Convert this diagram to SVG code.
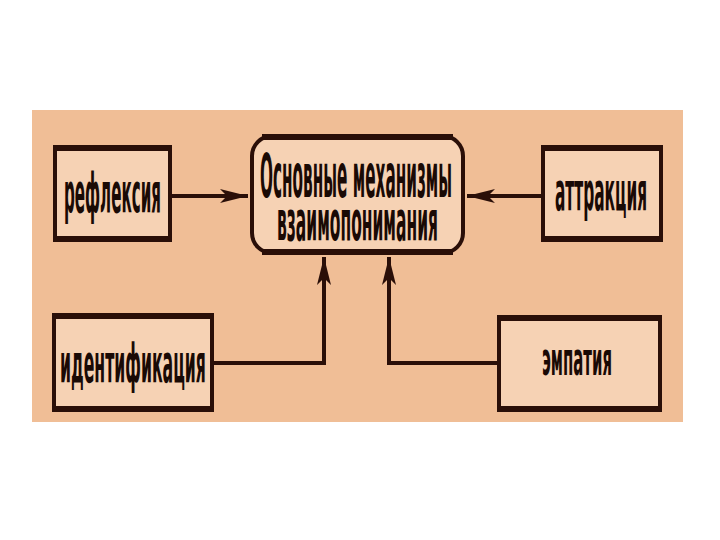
<svg xmlns="http://www.w3.org/2000/svg" width="720" height="540" viewBox="0 0 720 540">
<defs>
<style>
.bg{fill:#F0BE96}
.box{fill:#F6D2B4;stroke:#2A0F08;stroke-width:4}
.edge{fill:#2A0F08}
.t{font-family:"DejaVu Sans Condensed","DejaVu Sans","Liberation Sans",sans-serif;font-weight:bold;fill:#1A0A05}
.conn{fill:none;stroke:#2A0F08;stroke-width:4}
</style>
<marker id="ah" markerUnits="userSpaceOnUse" markerWidth="32" markerHeight="16" refX="30" refY="8" orient="auto">
<path d="M2,1 L30,8 L2,15 L9,8 Z" fill="#2A0F08"/>
</marker>
</defs>
<rect width="720" height="540" fill="#FFFFFF"/>
<rect class="bg" x="32" y="110" width="651" height="312"/>

<g id="connectors">
<path class="conn" d="M171,196 L248,196" marker-end="url(#ah)"/>
<path class="conn" d="M542,196 L467,196" marker-end="url(#ah)"/>
<path class="conn" d="M213,363 L324,363 L324,257" marker-end="url(#ah)"/>
<path class="conn" d="M498,363 L389,363 L389,257" marker-end="url(#ah)"/>
</g>

<g id="center">
<rect class="box" x="252" y="136" width="211" height="117" rx="20" ry="20"/>
<rect class="edge" x="262" y="134" width="191" height="6"/>
<rect class="edge" x="262" y="249" width="191" height="6"/>
<text class="t" transform="translate(260,197) scale(0.35,1)" x="0" y="0" font-size="61" textLength="549" lengthAdjust="spacingAndGlyphs">Основные механизмы</text>
<text class="t" transform="translate(277,240) scale(0.35,1)" x="0" y="0" font-size="55" textLength="460" lengthAdjust="spacingAndGlyphs">взаимопонимания</text>
</g>

<g id="refleksia">
<rect class="box" x="55" y="148" width="115" height="91"/>
<rect class="edge" x="53" y="145" width="119" height="6"/>
<rect class="edge" x="53" y="236" width="119" height="6"/>
<text class="t" transform="translate(64,212) scale(0.35,1)" x="0" y="0" font-size="55" textLength="277" lengthAdjust="spacingAndGlyphs">рефлексия</text>
</g>

<g id="identifikacia">
<rect class="box" x="54" y="316" width="158" height="93"/>
<rect class="edge" x="52" y="313" width="162" height="6"/>
<rect class="edge" x="52" y="406" width="162" height="6"/>
<text class="t" transform="translate(60,382) scale(0.35,1)" x="0" y="0" font-size="54" textLength="417" lengthAdjust="spacingAndGlyphs">идентификация</text>
</g>

<g id="attrakcia">
<rect class="box" x="543" y="148" width="118" height="91"/>
<rect class="edge" x="541" y="145" width="122" height="6"/>
<rect class="edge" x="541" y="236" width="122" height="6"/>
<text class="t" transform="translate(555,210) scale(0.35,1)" x="0" y="0" font-size="53" textLength="263" lengthAdjust="spacingAndGlyphs">аттракция</text>
</g>

<g id="empatia">
<rect class="box" x="499" y="318" width="161" height="91"/>
<rect class="edge" x="497" y="315" width="165" height="6"/>
<rect class="edge" x="497" y="406" width="165" height="6"/>
<text class="t" transform="translate(542,375) scale(0.35,1)" x="0" y="0" font-size="46" textLength="200" lengthAdjust="spacingAndGlyphs">эмпатия</text>
</g>
</svg>
